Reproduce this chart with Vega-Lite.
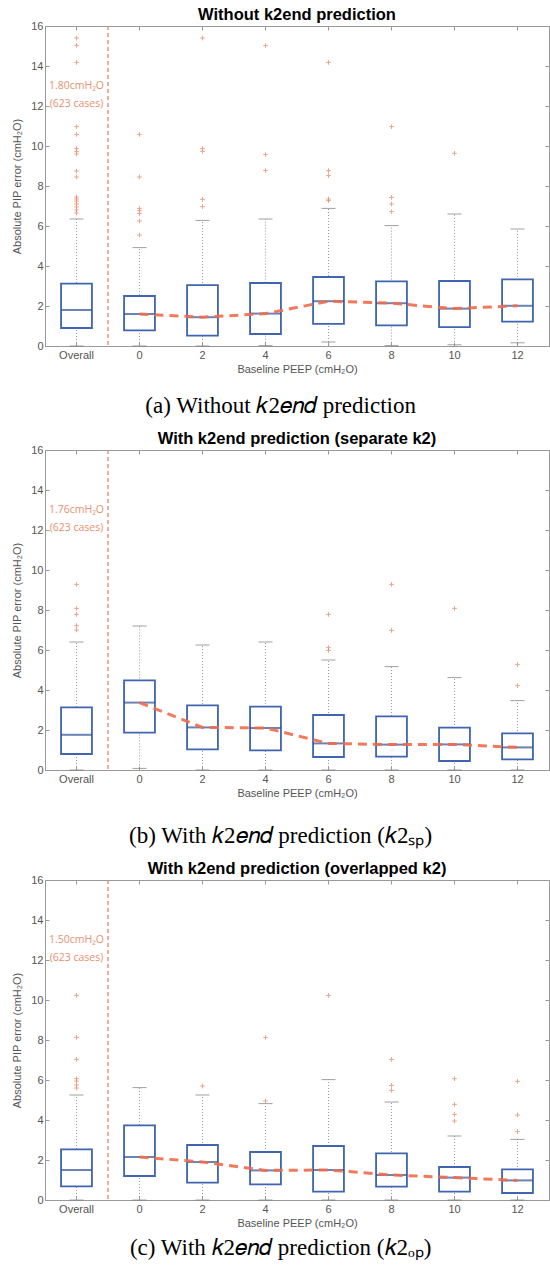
{
  "$schema": "https://vega.github.io/schema/vega-lite/v6.json",
  "background": "white",
  "padding": {"left": 11, "top": 6, "right": 0, "bottom": 0},
  "spacing": 12,
  "config": {
    "view": {"stroke": "#999999", "strokeWidth": 1},
    "axis": {"labelFont": "Liberation Sans", "labelFontSize": 11, "labelColor": "#555555", "titleFont": "Liberation Sans", "titleFontSize": 11, "titleFontWeight": "normal", "titleColor": "#555555", "domainColor": "#999999", "tickColor": "#999999", "grid": false}
  },
  "datasets": {
    "boxes": [
      {"panel": "a", "peep": "Overall", "lower": 0, "q1": 0.9, "median": 1.8, "q3": 3.12, "upper": 6.35},
      {"panel": "a", "peep": "0", "lower": 0, "q1": 0.78, "median": 1.6, "q3": 2.5, "upper": 4.92},
      {"panel": "a", "peep": "2", "lower": 0, "q1": 0.52, "median": 1.44, "q3": 3.04, "upper": 6.28},
      {"panel": "a", "peep": "4", "lower": 0.02, "q1": 0.6, "median": 1.62, "q3": 3.15, "upper": 6.35},
      {"panel": "a", "peep": "6", "lower": 0.2, "q1": 1.11, "median": 2.24, "q3": 3.45, "upper": 6.88},
      {"panel": "a", "peep": "8", "lower": 0.02, "q1": 1.03, "median": 2.14, "q3": 3.23, "upper": 6.02},
      {"panel": "a", "peep": "10", "lower": 0.06, "q1": 0.94, "median": 1.87, "q3": 3.25, "upper": 6.6},
      {"panel": "a", "peep": "12", "lower": 0.16, "q1": 1.22, "median": 2.01, "q3": 3.33, "upper": 5.85},
      {"panel": "b", "peep": "Overall", "lower": 0, "q1": 0.8, "median": 1.76, "q3": 3.13, "upper": 6.4},
      {"panel": "b", "peep": "0", "lower": 0.08, "q1": 1.87, "median": 3.37, "q3": 4.48, "upper": 7.2},
      {"panel": "b", "peep": "2", "lower": 0, "q1": 1.03, "median": 2.13, "q3": 3.23, "upper": 6.25},
      {"panel": "b", "peep": "4", "lower": 0, "q1": 0.98, "median": 2.1, "q3": 3.17, "upper": 6.4},
      {"panel": "b", "peep": "6", "lower": 0, "q1": 0.65, "median": 1.33, "q3": 2.75, "upper": 5.5},
      {"panel": "b", "peep": "8", "lower": 0, "q1": 0.67, "median": 1.27, "q3": 2.68, "upper": 5.17},
      {"panel": "b", "peep": "10", "lower": 0, "q1": 0.45, "median": 1.28, "q3": 2.12, "upper": 4.62},
      {"panel": "b", "peep": "12", "lower": 0, "q1": 0.53, "median": 1.13, "q3": 1.83, "upper": 3.47},
      {"panel": "c", "peep": "Overall", "lower": 0, "q1": 0.68, "median": 1.5, "q3": 2.53, "upper": 5.25},
      {"panel": "c", "peep": "0", "lower": 0, "q1": 1.2, "median": 2.15, "q3": 3.73, "upper": 5.62},
      {"panel": "c", "peep": "2", "lower": 0, "q1": 0.87, "median": 1.9, "q3": 2.75, "upper": 5.25},
      {"panel": "c", "peep": "4", "lower": 0, "q1": 0.78, "median": 1.48, "q3": 2.4, "upper": 4.82},
      {"panel": "c", "peep": "6", "lower": 0, "q1": 0.42, "median": 1.5, "q3": 2.7, "upper": 6.02},
      {"panel": "c", "peep": "8", "lower": 0, "q1": 0.67, "median": 1.25, "q3": 2.33, "upper": 4.9},
      {"panel": "c", "peep": "10", "lower": 0, "q1": 0.42, "median": 1.12, "q3": 1.65, "upper": 3.2},
      {"panel": "c", "peep": "12", "lower": 0, "q1": 0.35, "median": 0.98, "q3": 1.53, "upper": 3.03}
    ],
    "outliers": [
      {"panel": "a", "peep": "Overall", "value": 15.4}, {"panel": "a", "peep": "Overall", "value": 15.03}, {"panel": "a", "peep": "Overall", "value": 14.18},
      {"panel": "a", "peep": "Overall", "value": 10.97}, {"panel": "a", "peep": "Overall", "value": 10.58}, {"panel": "a", "peep": "Overall", "value": 9.87},
      {"panel": "a", "peep": "Overall", "value": 9.72}, {"panel": "a", "peep": "Overall", "value": 9.6}, {"panel": "a", "peep": "Overall", "value": 8.75},
      {"panel": "a", "peep": "Overall", "value": 8.45}, {"panel": "a", "peep": "Overall", "value": 7.45}, {"panel": "a", "peep": "Overall", "value": 7.35},
      {"panel": "a", "peep": "Overall", "value": 7.25}, {"panel": "a", "peep": "Overall", "value": 7.1}, {"panel": "a", "peep": "Overall", "value": 6.95},
      {"panel": "a", "peep": "Overall", "value": 6.8}, {"panel": "a", "peep": "Overall", "value": 6.65},
      {"panel": "a", "peep": "0", "value": 10.58}, {"panel": "a", "peep": "0", "value": 8.45}, {"panel": "a", "peep": "0", "value": 6.88},
      {"panel": "a", "peep": "0", "value": 6.77}, {"panel": "a", "peep": "0", "value": 6.63}, {"panel": "a", "peep": "0", "value": 6.25},
      {"panel": "a", "peep": "0", "value": 5.55},
      {"panel": "a", "peep": "2", "value": 15.4}, {"panel": "a", "peep": "2", "value": 9.87}, {"panel": "a", "peep": "2", "value": 9.73},
      {"panel": "a", "peep": "2", "value": 7.33}, {"panel": "a", "peep": "2", "value": 6.97},
      {"panel": "a", "peep": "4", "value": 15.02}, {"panel": "a", "peep": "4", "value": 9.57}, {"panel": "a", "peep": "4", "value": 8.77},
      {"panel": "a", "peep": "6", "value": 14.18}, {"panel": "a", "peep": "6", "value": 8.77}, {"panel": "a", "peep": "6", "value": 8.52},
      {"panel": "a", "peep": "6", "value": 7.35}, {"panel": "a", "peep": "6", "value": 7.27},
      {"panel": "a", "peep": "8", "value": 10.97}, {"panel": "a", "peep": "8", "value": 7.43}, {"panel": "a", "peep": "8", "value": 7.1},
      {"panel": "a", "peep": "8", "value": 6.72},
      {"panel": "a", "peep": "10", "value": 9.63},
      {"panel": "b", "peep": "Overall", "value": 9.28}, {"panel": "b", "peep": "Overall", "value": 8.08}, {"panel": "b", "peep": "Overall", "value": 7.78},
      {"panel": "b", "peep": "Overall", "value": 7.22}, {"panel": "b", "peep": "Overall", "value": 7.0},
      {"panel": "b", "peep": "6", "value": 7.78}, {"panel": "b", "peep": "6", "value": 6.12}, {"panel": "b", "peep": "6", "value": 5.98},
      {"panel": "b", "peep": "8", "value": 9.28}, {"panel": "b", "peep": "8", "value": 6.98},
      {"panel": "b", "peep": "10", "value": 8.08},
      {"panel": "b", "peep": "12", "value": 5.28}, {"panel": "b", "peep": "12", "value": 4.22},
      {"panel": "c", "peep": "Overall", "value": 10.23}, {"panel": "c", "peep": "Overall", "value": 8.13}, {"panel": "c", "peep": "Overall", "value": 7.03},
      {"panel": "c", "peep": "Overall", "value": 6.07}, {"panel": "c", "peep": "Overall", "value": 5.95}, {"panel": "c", "peep": "Overall", "value": 5.75},
      {"panel": "c", "peep": "Overall", "value": 5.6},
      {"panel": "c", "peep": "2", "value": 5.7},
      {"panel": "c", "peep": "4", "value": 8.13}, {"panel": "c", "peep": "4", "value": 4.95},
      {"panel": "c", "peep": "6", "value": 10.23},
      {"panel": "c", "peep": "8", "value": 7.03}, {"panel": "c", "peep": "8", "value": 5.73}, {"panel": "c", "peep": "8", "value": 5.48},
      {"panel": "c", "peep": "10", "value": 6.07}, {"panel": "c", "peep": "10", "value": 4.78}, {"panel": "c", "peep": "10", "value": 4.28},
      {"panel": "c", "peep": "10", "value": 3.95},
      {"panel": "c", "peep": "12", "value": 5.93}, {"panel": "c", "peep": "12", "value": 4.25}, {"panel": "c", "peep": "12", "value": 3.42}
    ],
    "notes": [
      {"panel": "a", "peep": "Overall", "value": 13.0, "text": "1.80cmH₂O"},
      {"panel": "a", "peep": "Overall", "value": 12.1, "text": "(623 cases)"},
      {"panel": "b", "peep": "Overall", "value": 13.0, "text": "1.76cmH₂O"},
      {"panel": "b", "peep": "Overall", "value": 12.1, "text": "(623 cases)"},
      {"panel": "c", "peep": "Overall", "value": 13.0, "text": "1.50cmH₂O"},
      {"panel": "c", "peep": "Overall", "value": 12.1, "text": "(623 cases)"}
    ]
  },
  "vconcat": [
    {
      "title": {"text": "(a) Without 𝑘2𝑒𝑛𝑑 prediction", "orient": "bottom", "anchor": "middle", "frame": "bounds", "font": "Liberation Serif", "fontSize": 23, "fontWeight": "normal", "color": "#000000", "offset": 20},
      "vconcat": [
        {
          "width": 504, "height": 320,
          "title": {"text": "Without k2end prediction", "anchor": "middle", "frame": "group", "font": "Liberation Sans", "fontSize": 16.5, "fontWeight": "bold", "color": "#000000", "offset": -3},
          "resolve": {"axis": {"x": "independent", "y": "independent"}},
          "layer": [
            {
              "encoding": {
                "x": {"field": "peep", "type": "ordinal", "bandPosition": 0.5, "scale": {"type": "band", "domain": ["Overall", "0", "2", "4", "6", "8", "10", "12"], "paddingInner": 0, "paddingOuter": 0}, "axis": {"title": "Baseline PEEP (cmH₂O)", "labelAngle": 0, "tickSize": -4, "labelPadding": 7, "titlePadding": 3}},
                "y": {"type": "quantitative", "scale": {"domain": [0, 16], "nice": false}, "axis": {"title": "Absolute PIP error (cmH₂O)", "values": [0, 2, 4, 6, 8, 10, 12, 14, 16], "tickSize": -4, "labelPadding": 6, "titlePadding": 8}}
              },
              "layer": [
                {"data": {"name": "boxes"}, "transform": [{"filter": "datum.panel === 'a'"}], "mark": {"type": "rule", "color": "#9a9a9a", "strokeWidth": 1, "strokeDash": [1, 2]}, "encoding": {"y": {"field": "lower"}, "y2": {"field": "upper"}}},
                {"data": {"name": "boxes"}, "transform": [{"filter": "datum.panel === 'a'"}], "mark": {"type": "tick", "orient": "horizontal", "size": 14, "thickness": 1, "color": "#777777"}, "encoding": {"y": {"field": "upper"}}},
                {"data": {"name": "boxes"}, "transform": [{"filter": "datum.panel === 'a'"}], "mark": {"type": "tick", "orient": "horizontal", "size": 14, "thickness": 1, "color": "#777777"}, "encoding": {"y": {"field": "lower"}}},
                {"data": {"name": "boxes"}, "transform": [{"filter": "datum.panel === 'a'"}], "mark": {"type": "bar", "width": {"band": 0.49}, "fill": "white", "stroke": "#3f64b0", "strokeWidth": 1.8}, "encoding": {"y": {"field": "q1"}, "y2": {"field": "q3"}}},
                {"data": {"name": "boxes"}, "transform": [{"filter": "datum.panel === 'a'"}], "mark": {"type": "tick", "orient": "horizontal", "size": 31, "thickness": 2, "color": "#2c4f97"}, "encoding": {"y": {"field": "median"}}},
                {"data": {"name": "boxes"}, "transform": [{"filter": "datum.panel === 'a' && datum.peep !== 'Overall'"}], "mark": {"type": "line", "color": "#ef6c4a", "strokeWidth": 3, "strokeDash": [9, 6], "opacity": 0.9}, "encoding": {"y": {"field": "median"}}},
                {"data": {"name": "boxes"}, "transform": [{"filter": "datum.panel === 'a' && datum.peep === 'Overall'"}], "mark": {"type": "rule", "color": "#e8866a", "strokeWidth": 1.3, "strokeDash": [4, 3]}, "encoding": {"x": {"field": "peep", "type": "ordinal", "bandPosition": 1}, "y": {"value": 0}, "y2": {"value": 320}}},
                {"data": {"name": "outliers"}, "transform": [{"filter": "datum.panel === 'a'"}], "mark": {"type": "point", "shape": "M-1,0L1,0M0,-1L0,1", "size": 22, "filled": false, "stroke": "#e8805c", "strokeWidth": 1}, "encoding": {"y": {"field": "value"}}},
                {"data": {"name": "notes"}, "transform": [{"filter": "datum.panel === 'a'"}], "mark": {"type": "text", "font": "Open Sans", "fontSize": 10.5, "color": "#e8906f"}, "encoding": {"y": {"field": "value"}, "text": {"field": "text"}}}
              ]
            },
            {
              "data": {"name": "boxes"}, "transform": [{"filter": "datum.panel === 'a'"}],
              "mark": {"type": "tick", "opacity": 0},
              "encoding": {
                "x": {"field": "peep", "type": "ordinal", "bandPosition": 0.5, "scale": {"type": "band", "domain": ["Overall", "0", "2", "4", "6", "8", "10", "12"], "paddingInner": 0, "paddingOuter": 0}, "axis": {"orient": "top", "labels": false, "title": null, "domain": false, "tickSize": -4}},
                "y": {"field": "median", "type": "quantitative", "scale": {"domain": [0, 16], "nice": false}, "axis": {"orient": "right", "labels": false, "title": null, "domain": false, "values": [0, 2, 4, 6, 8, 10, 12, 14, 16], "tickSize": -4}}
              }
            }
          ]
        }
      ]
    },
    {
      "title": {"text": "(b) With 𝑘2𝑒𝑛𝑑 prediction (𝑘2ₛₚ)", "orient": "bottom", "anchor": "middle", "frame": "bounds", "font": "Liberation Serif", "fontSize": 23, "fontWeight": "normal", "color": "#000000", "offset": 26},
      "vconcat": [
        {
          "width": 504, "height": 320,
          "title": {"text": "With k2end prediction (separate k2)", "anchor": "middle", "frame": "group", "font": "Liberation Sans", "fontSize": 16.5, "fontWeight": "bold", "color": "#000000", "offset": -3},
          "resolve": {"axis": {"x": "independent", "y": "independent"}},
          "layer": [
            {
              "encoding": {
                "x": {"field": "peep", "type": "ordinal", "bandPosition": 0.5, "scale": {"type": "band", "domain": ["Overall", "0", "2", "4", "6", "8", "10", "12"], "paddingInner": 0, "paddingOuter": 0}, "axis": {"title": "Baseline PEEP (cmH₂O)", "labelAngle": 0, "tickSize": -4, "labelPadding": 7, "titlePadding": 3}},
                "y": {"type": "quantitative", "scale": {"domain": [0, 16], "nice": false}, "axis": {"title": "Absolute PIP error (cmH₂O)", "values": [0, 2, 4, 6, 8, 10, 12, 14, 16], "tickSize": -4, "labelPadding": 6, "titlePadding": 8}}
              },
              "layer": [
                {"data": {"name": "boxes"}, "transform": [{"filter": "datum.panel === 'b'"}], "mark": {"type": "rule", "color": "#9a9a9a", "strokeWidth": 1, "strokeDash": [1, 2]}, "encoding": {"y": {"field": "lower"}, "y2": {"field": "upper"}}},
                {"data": {"name": "boxes"}, "transform": [{"filter": "datum.panel === 'b'"}], "mark": {"type": "tick", "orient": "horizontal", "size": 14, "thickness": 1, "color": "#777777"}, "encoding": {"y": {"field": "upper"}}},
                {"data": {"name": "boxes"}, "transform": [{"filter": "datum.panel === 'b'"}], "mark": {"type": "tick", "orient": "horizontal", "size": 14, "thickness": 1, "color": "#777777"}, "encoding": {"y": {"field": "lower"}}},
                {"data": {"name": "boxes"}, "transform": [{"filter": "datum.panel === 'b'"}], "mark": {"type": "bar", "width": {"band": 0.49}, "fill": "white", "stroke": "#3f64b0", "strokeWidth": 1.8}, "encoding": {"y": {"field": "q1"}, "y2": {"field": "q3"}}},
                {"data": {"name": "boxes"}, "transform": [{"filter": "datum.panel === 'b'"}], "mark": {"type": "tick", "orient": "horizontal", "size": 31, "thickness": 2, "color": "#2c4f97"}, "encoding": {"y": {"field": "median"}}},
                {"data": {"name": "boxes"}, "transform": [{"filter": "datum.panel === 'b' && datum.peep !== 'Overall'"}], "mark": {"type": "line", "color": "#ef6c4a", "strokeWidth": 3, "strokeDash": [9, 6], "opacity": 0.9}, "encoding": {"y": {"field": "median"}}},
                {"data": {"name": "boxes"}, "transform": [{"filter": "datum.panel === 'b' && datum.peep === 'Overall'"}], "mark": {"type": "rule", "color": "#e8866a", "strokeWidth": 1.3, "strokeDash": [4, 3]}, "encoding": {"x": {"field": "peep", "type": "ordinal", "bandPosition": 1}, "y": {"value": 0}, "y2": {"value": 320}}},
                {"data": {"name": "outliers"}, "transform": [{"filter": "datum.panel === 'b'"}], "mark": {"type": "point", "shape": "M-1,0L1,0M0,-1L0,1", "size": 22, "filled": false, "stroke": "#e8805c", "strokeWidth": 1}, "encoding": {"y": {"field": "value"}}},
                {"data": {"name": "notes"}, "transform": [{"filter": "datum.panel === 'b'"}], "mark": {"type": "text", "font": "Open Sans", "fontSize": 10.5, "color": "#e8906f"}, "encoding": {"y": {"field": "value"}, "text": {"field": "text"}}}
              ]
            },
            {
              "data": {"name": "boxes"}, "transform": [{"filter": "datum.panel === 'b'"}],
              "mark": {"type": "tick", "opacity": 0},
              "encoding": {
                "x": {"field": "peep", "type": "ordinal", "bandPosition": 0.5, "scale": {"type": "band", "domain": ["Overall", "0", "2", "4", "6", "8", "10", "12"], "paddingInner": 0, "paddingOuter": 0}, "axis": {"orient": "top", "labels": false, "title": null, "domain": false, "tickSize": -4}},
                "y": {"field": "median", "type": "quantitative", "scale": {"domain": [0, 16], "nice": false}, "axis": {"orient": "right", "labels": false, "title": null, "domain": false, "values": [0, 2, 4, 6, 8, 10, 12, 14, 16], "tickSize": -4}}
              }
            }
          ]
        }
      ]
    },
    {
      "title": {"text": "(c) With 𝑘2𝑒𝑛𝑑 prediction (𝑘2ₒₚ)", "orient": "bottom", "anchor": "middle", "frame": "bounds", "font": "Liberation Serif", "fontSize": 23, "fontWeight": "normal", "color": "#000000", "offset": 8},
      "vconcat": [
        {
          "width": 504, "height": 320,
          "title": {"text": "With k2end prediction (overlapped k2)", "anchor": "middle", "frame": "group", "font": "Liberation Sans", "fontSize": 16.5, "fontWeight": "bold", "color": "#000000", "offset": -3},
          "resolve": {"axis": {"x": "independent", "y": "independent"}},
          "layer": [
            {
              "encoding": {
                "x": {"field": "peep", "type": "ordinal", "bandPosition": 0.5, "scale": {"type": "band", "domain": ["Overall", "0", "2", "4", "6", "8", "10", "12"], "paddingInner": 0, "paddingOuter": 0}, "axis": {"title": "Baseline PEEP (cmH₂O)", "labelAngle": 0, "tickSize": -4, "labelPadding": 7, "titlePadding": 3}},
                "y": {"type": "quantitative", "scale": {"domain": [0, 16], "nice": false}, "axis": {"title": "Absolute PIP error (cmH₂O)", "values": [0, 2, 4, 6, 8, 10, 12, 14, 16], "tickSize": -4, "labelPadding": 6, "titlePadding": 8}}
              },
              "layer": [
                {"data": {"name": "boxes"}, "transform": [{"filter": "datum.panel === 'c'"}], "mark": {"type": "rule", "color": "#9a9a9a", "strokeWidth": 1, "strokeDash": [1, 2]}, "encoding": {"y": {"field": "lower"}, "y2": {"field": "upper"}}},
                {"data": {"name": "boxes"}, "transform": [{"filter": "datum.panel === 'c'"}], "mark": {"type": "tick", "orient": "horizontal", "size": 14, "thickness": 1, "color": "#777777"}, "encoding": {"y": {"field": "upper"}}},
                {"data": {"name": "boxes"}, "transform": [{"filter": "datum.panel === 'c'"}], "mark": {"type": "tick", "orient": "horizontal", "size": 14, "thickness": 1, "color": "#777777"}, "encoding": {"y": {"field": "lower"}}},
                {"data": {"name": "boxes"}, "transform": [{"filter": "datum.panel === 'c'"}], "mark": {"type": "bar", "width": {"band": 0.49}, "fill": "white", "stroke": "#3f64b0", "strokeWidth": 1.8}, "encoding": {"y": {"field": "q1"}, "y2": {"field": "q3"}}},
                {"data": {"name": "boxes"}, "transform": [{"filter": "datum.panel === 'c'"}], "mark": {"type": "tick", "orient": "horizontal", "size": 31, "thickness": 2, "color": "#2c4f97"}, "encoding": {"y": {"field": "median"}}},
                {"data": {"name": "boxes"}, "transform": [{"filter": "datum.panel === 'c' && datum.peep !== 'Overall'"}], "mark": {"type": "line", "color": "#ef6c4a", "strokeWidth": 3, "strokeDash": [9, 6], "opacity": 0.9}, "encoding": {"y": {"field": "median"}}},
                {"data": {"name": "boxes"}, "transform": [{"filter": "datum.panel === 'c' && datum.peep === 'Overall'"}], "mark": {"type": "rule", "color": "#e8866a", "strokeWidth": 1.3, "strokeDash": [4, 3]}, "encoding": {"x": {"field": "peep", "type": "ordinal", "bandPosition": 1}, "y": {"value": 0}, "y2": {"value": 320}}},
                {"data": {"name": "outliers"}, "transform": [{"filter": "datum.panel === 'c'"}], "mark": {"type": "point", "shape": "M-1,0L1,0M0,-1L0,1", "size": 22, "filled": false, "stroke": "#e8805c", "strokeWidth": 1}, "encoding": {"y": {"field": "value"}}},
                {"data": {"name": "notes"}, "transform": [{"filter": "datum.panel === 'c'"}], "mark": {"type": "text", "font": "Open Sans", "fontSize": 10.5, "color": "#e8906f"}, "encoding": {"y": {"field": "value"}, "text": {"field": "text"}}}
              ]
            },
            {
              "data": {"name": "boxes"}, "transform": [{"filter": "datum.panel === 'c'"}],
              "mark": {"type": "tick", "opacity": 0},
              "encoding": {
                "x": {"field": "peep", "type": "ordinal", "bandPosition": 0.5, "scale": {"type": "band", "domain": ["Overall", "0", "2", "4", "6", "8", "10", "12"], "paddingInner": 0, "paddingOuter": 0}, "axis": {"orient": "top", "labels": false, "title": null, "domain": false, "tickSize": -4}},
                "y": {"field": "median", "type": "quantitative", "scale": {"domain": [0, 16], "nice": false}, "axis": {"orient": "right", "labels": false, "title": null, "domain": false, "values": [0, 2, 4, 6, 8, 10, 12, 14, 16], "tickSize": -4}}
              }
            }
          ]
        }
      ]
    }
  ]
}
